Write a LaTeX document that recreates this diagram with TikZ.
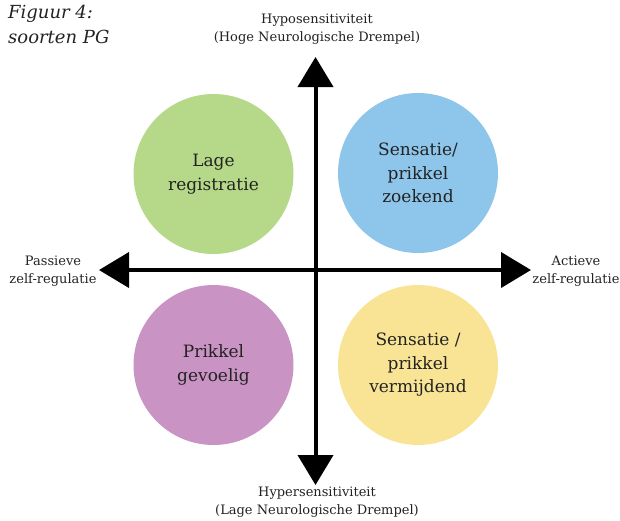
\documentclass[tikz,border=0pt]{standalone}
\usepackage{fontspec}
\setmainfont{DejaVu Serif}
\usetikzlibrary{arrows.meta}
\definecolor{qgreen}{RGB}{182,217,137}
\definecolor{qblue}{RGB}{142,198,235}
\definecolor{qpurple}{RGB}{201,148,196}
\definecolor{qyellow}{RGB}{248,228,148}
\definecolor{ink}{RGB}{34,34,34}
\begin{document}
\begin{tikzpicture}[x=1pt,y=-1pt,
  quadrant/.style={circle,minimum size=160pt,inner sep=0pt,align=center,
    text=ink,font=\fontsize{17}{23.5}\selectfont},
  axislabel/.style={align=center,text=ink,inner sep=0pt,
    font=\fontsize{13}{18}\selectfont},
  axisline/.style={line width=4pt,
    {Triangle[length=30pt,width=35pt]}-{Triangle[length=30pt,width=35pt]}}]
  \useasboundingbox (0,0) rectangle (620,520);

  % title
  \node[anchor=north west,inner sep=0pt,align=left,text=ink,
    font=\fontsize{18}{25}\selectfont\itshape] (title) at (8,5)
    {Figuur 4:\\soorten PG};

  % quadrant circles
  \node[quadrant,fill=qgreen]  (low)   at (213.5,174) {Lage\\registratie};
  \node[quadrant,fill=qblue]   (seek)  at (418,173)   {Sensatie/\\prikkel\\zoekend};
  \node[quadrant,fill=qpurple] (sens)  at (213.5,365) {Prikkel\\gevoelig};
  \node[quadrant,fill=qyellow] (avoid) at (418,365)   {Sensatie /\\prikkel\\vermijdend};

  % axis end points
  \coordinate (top)    at (315.5,57);
  \coordinate (bottom) at (315.5,485);
  \coordinate (left)   at (99,270);
  \coordinate (right)  at (531,270);

  \draw[axisline] (bottom) -- (top);
  \draw[axisline] (left) -- (right);

  % axis labels
  \node[axislabel] (hypo)  at (317,29)  {Hyposensitiviteit\\(Hoge Neurologische Drempel)};
  \node[axislabel] (hyper) at (317,502) {Hypersensitiviteit\\(Lage Neurologische Drempel)};
  \node[axislabel] (pass)  at (53,271)  {Passieve\\zelf-regulatie};
  \node[axislabel] (act)   at (576,271) {Actieve\\zelf-regulatie};
\end{tikzpicture}
\end{document}
